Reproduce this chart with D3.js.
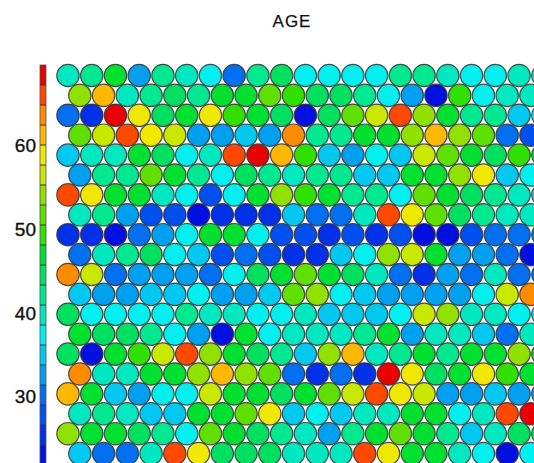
<!DOCTYPE html>
<html><head><meta charset="utf-8">
<script src="https://cdn.jsdelivr.net/npm/d3@7"></script>
<style>html,body{margin:0;padding:0;background:#fff;overflow:hidden;} svg{display:block;}</style>
</head><body>
<svg id="chart" width="534" height="463"></svg>
<script>
// ---- data ----
const title = "AGE";
const tickValues = [30, 40, 50, 60];
const ageDomain = [21.84, 69.64];
const palette = ["#0010e0","#0030e8","#0050f0","#0070f0","#00a0f0","#00c8f0","#00f0f0","#00e8c0","#00e890","#00e060",
                 "#00e030","#30e000","#60e000","#90e000","#c8e800","#f0e800","#ffb800","#ff8c00","#ff4800","#e80000"];
const row0  = [40,42,47,33,42,40,37,30,42,45,37,37,37,37,42,42,40,37,37,40,40];
const row1  = [54,61,40,42,45,42,47,47,52,49,45,45,42,37,33,23,49,37,40,40];
const row2  = [30,25,68,59,45,47,59,49,47,45,23,45,52,56,66,54,47,42,42,35,37];
const row3  = [52,56,66,59,56,33,33,35,33,64,42,42,47,47,54,61,54,52,30,28];
const row4  = [35,40,40,47,45,37,40,66,68,61,49,35,33,37,35,56,52,47,45,49,47];
const row5  = [33,42,42,52,47,42,37,45,42,40,42,42,35,35,47,47,54,59,35,37];
const row6  = [66,59,47,47,40,37,28,37,47,54,49,47,42,42,37,52,47,45,42,40,40];
const row7  = [40,42,33,28,28,23,25,25,25,35,30,30,40,66,59,52,45,42,40,40];
const row8  = [25,25,23,30,33,37,47,47,37,28,28,25,28,25,28,23,23,28,30,30,30];
const row9  = [30,40,42,45,37,35,28,30,28,25,25,35,37,54,56,47,33,33,30,23];
const row10 = [64,56,30,33,33,33,30,37,45,47,52,47,45,40,30,25,33,30,40,30,30];
const row11 = [35,33,33,35,35,37,33,33,35,52,54,37,35,33,33,33,33,37,56,64];
const row12 = [45,37,37,37,37,42,40,40,37,37,40,35,35,35,37,56,54,40,40,37,37];
const row13 = [47,45,45,42,37,33,23,47,37,40,40,40,42,47,33,40,40,35,30,40];
const row14 = [45,23,47,49,56,66,54,47,45,42,35,54,61,40,42,47,42,47,47,54,47];
const row15 = [64,40,40,47,47,54,61,54,52,30,25,30,25,68,59,45,47,59,49,47];
const row16 = [61,47,35,33,37,37,56,47,47,45,47,52,56,66,59,56,33,33,35,33,33];
const row17 = [40,42,40,35,35,47,47,52,59,35,37,35,40,40,47,47,37,40,66,68];
const row18 = [54,47,47,45,42,37,52,47,45,42,40,33,42,47,52,47,42,35,40,45,45];
const row19 = [35,30,30,40,66,59,45,45,45,40,40,40,66,59,47,47,40,37,23,37];
const rows = [row0,row1,row2,row3,row4,row5,row6,row7,row8,row9,row10,row11,row12,row13,row14,row15,row16,row17,row18,row19];

// ---- chart ----
const svg = d3.select("#chart");
const font = "'Liberation Sans', Arial, Helvetica, sans-serif";

const x = d3.scaleLinear().domain([0, 20]).range([68, 68 + 20 * 23.74]);
const y = d3.scaleLinear().domain([0, 19]).range([75.5, 453.6]);
const color = d3.scaleQuantize().domain(ageDomain).range(palette);

const cells = [];
rows.forEach((r, ri) => r.forEach((v, ci) => cells.push({r: ri, c: ci, v})));

svg.append("g").selectAll("circle").data(cells).join("circle")
  .attr("cx", d => x(d.c + (d.r % 2 ? 0.5 : 0)))
  .attr("cy", d => y(d.r))
  .attr("r", 11.2)
  .attr("fill", d => color(d.v))
  .attr("stroke", "#333")
  .attr("stroke-opacity", 0.85)
  .attr("stroke-width", 1.2);

// colorbar
const cb = d3.scaleLinear().domain(ageDomain).range([465, 65]);
const bands = palette.map(p => {
  const [a, b] = color.invertExtent(p);
  return {a, b, p};
});
const cbg = svg.append("g");
cbg.selectAll("rect").data(bands).join("rect")
  .attr("x", 40).attr("width", 6)
  .attr("y", d => cb(d.b)).attr("height", d => cb(d.a) - cb(d.b))
  .attr("fill", d => d.p);
cbg.selectAll("line.sep").data(bands.slice(1)).join("line")
  .attr("class", "sep")
  .attr("x1", 40).attr("x2", 46)
  .attr("y1", d => cb(d.a)).attr("y2", d => cb(d.a))
  .attr("stroke", "#333").attr("stroke-width", 1);
cbg.append("rect").attr("x", 40).attr("y", cb(ageDomain[1])).attr("width", 6)
  .attr("height", cb(ageDomain[0]) - cb(ageDomain[1]))
  .attr("fill", "none").attr("stroke", "#555").attr("stroke-width", 0.8);

const axis = d3.axisLeft(cb).tickValues(tickValues).tickSize(0).tickPadding(4).tickFormat(d3.format("d"));
const ag = svg.append("g").attr("transform", "translate(40,0)").call(axis);
ag.select(".domain").remove();
ag.selectAll("text").attr("font-family", font).attr("font-size", 19).attr("fill", "#111")
  .attr("stroke", "#111").attr("stroke-width", 0.35);

svg.append("text").attr("x", 292).attr("y", 27).attr("text-anchor", "middle")
  .attr("font-family", font).attr("font-size", 17).attr("letter-spacing", 1)
  .attr("fill", "#111").attr("stroke", "#111").attr("stroke-width", 0.25).text(title);
</script>
</body></html>
